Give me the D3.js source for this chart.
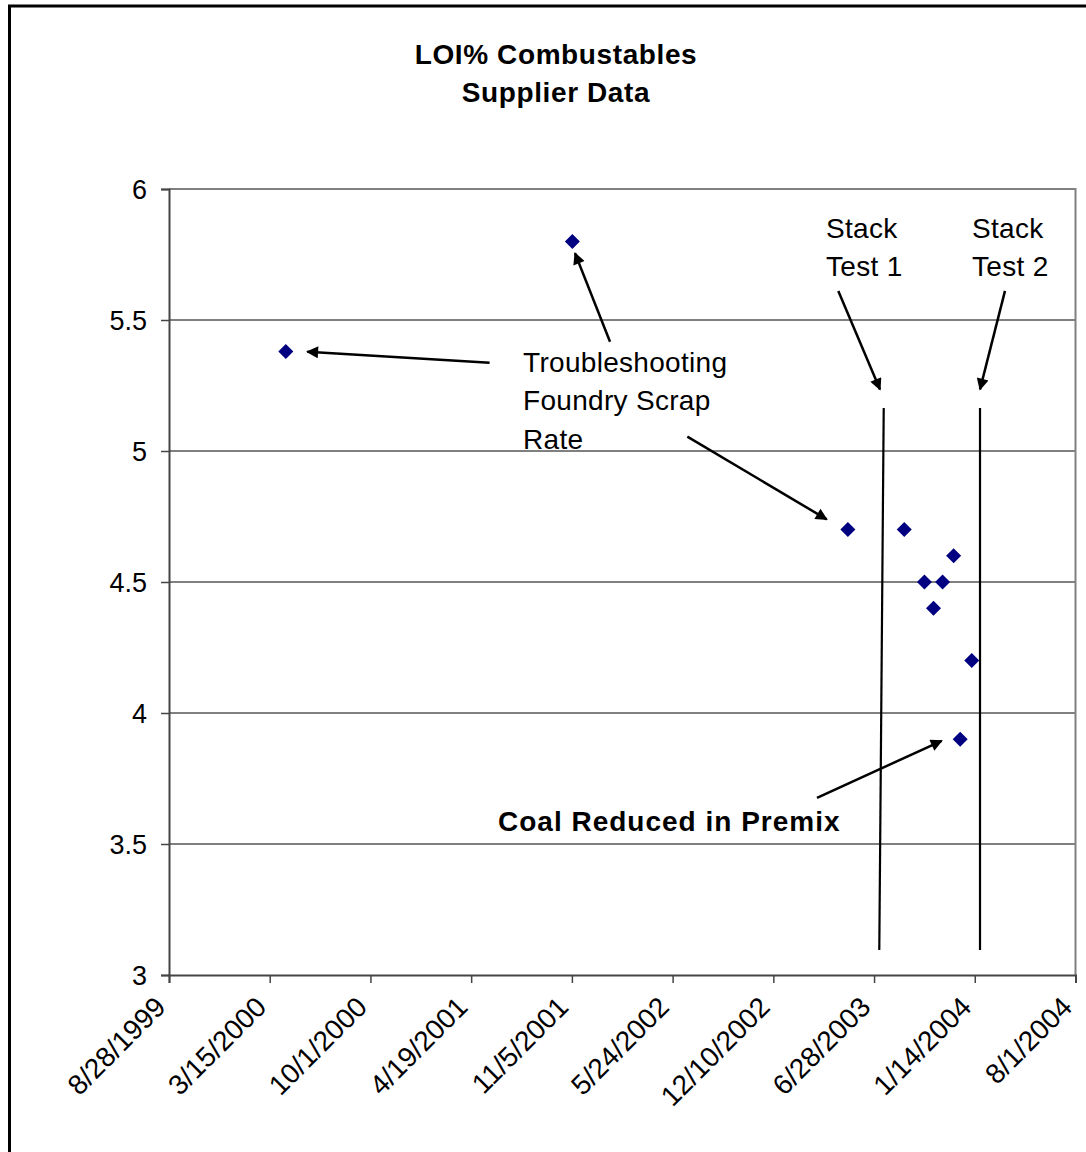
<!DOCTYPE html>
<html>
<head>
<meta charset="utf-8">
<script src="https://cdn.jsdelivr.net/npm/d3@7"></script>
<style>
  html, body { margin: 0; padding: 0; background: #fff; }
  svg { display: block; font-family: "Liberation Sans", Arial, sans-serif; }
</style>
</head>
<body>
<svg id="chart" width="1086" height="1152"></svg>
<script>
// ---------- data ----------
const titleLines = ["LOI% Combustables", "Supplier Data"];
const xTickLabels = ["8/28/1999", "3/15/2000", "10/1/2000", "4/19/2001", "11/5/2001",
                     "5/24/2002", "12/10/2002", "6/28/2003", "1/14/2004", "8/1/2004"];
const yTickValues = [3, 3.5, 4, 4.5, 5, 5.5, 6];
const pointDates = ["4/16/2000", "11/6/2001", "5/7/2003", "8/27/2003", "10/6/2003",
                    "10/24/2003", "11/11/2003", "12/3/2003", "12/16/2003", "1/8/2004"];
const pointValues = [5.38, 5.80, 4.70, 4.70, 4.50, 4.40, 4.50, 4.60, 3.90, 4.20];

// annotations, positioned in data terms (days after first tick date, value)
const arrowFromDay = [636.6, 875.7, 1029.2, 1329.0, 1660.0, 1286.7];
const arrowFromVal = [5.337, 5.417, 5.055, 5.611, 5.611, 3.676];
const arrowToDay   = [274.6, 806.2, 1306.0, 1411.8, 1610.4, 1534.3];
const arrowToVal   = [5.379, 5.755, 4.739, 5.235, 5.235, 3.894];

const testLineTopDay = [1419.2, 1610.4];
const testLineBotDay = [1410.4, 1610.4];
const testLineTopVal = [5.164, 5.164];
const testLineBotVal = [3.095, 3.095];

const noteLines = [["Troubleshooting", "Foundry Scrap", "Rate"], ["Stack", "Test 1"], ["Stack", "Test 2"], ["Coal Reduced in Premix"]];
const noteDay = [703.0, 1304.6, 1594.5, 653.3];
const noteVal = [5.303, 5.813, 5.813, 3.550];
const noteBold = [false, false, false, true];

// ---------- layout ----------
const svg = d3.select("#chart");
const plot = { left: 169, right: 1075.5, top: 189, bottom: 975 };

const parse = d3.timeParse("%m/%d/%Y");
const tickDates = xTickLabels.map(parse);
const start = tickDates[0];
const dayToDate = d => new Date(start.getTime() + d * 86400000);

const x = d3.scaleTime().domain([tickDates[0], tickDates[tickDates.length - 1]]).range([plot.left, plot.right]);
const y = d3.scaleLinear().domain([3, 6]).range([plot.bottom, plot.top]);

// outer frame
svg.append("rect").attr("x", 9.5).attr("y", 6).attr("width", 1200).attr("height", 1200)
  .attr("fill", "#fff").attr("stroke", "#000").attr("stroke-width", 3);

// title
svg.append("g").selectAll("text").data(titleLines).join("text")
  .attr("x", 556).attr("y", (d, i) => 64 + i * 38)
  .attr("text-anchor", "middle").attr("font-weight", "bold")
  .attr("font-size", 28).attr("letter-spacing", 0.6)
  .text(d => d);

// gridlines
svg.append("g").selectAll("line").data(yTickValues.filter(v => v > 3 && v < 6)).join("line")
  .attr("x1", plot.left).attr("x2", plot.right)
  .attr("y1", d => y(d)).attr("y2", d => y(d))
  .attr("stroke", "#000").attr("stroke-width", 1);

// plot border top & right (gray)
svg.append("path")
  .attr("d", `M${plot.left},${plot.top}H${plot.right}V${plot.bottom}`)
  .attr("fill", "none").attr("stroke", "#808080").attr("stroke-width", 2);

// y axis
const yAxis = d3.axisLeft(y).tickValues(yTickValues).tickSize(8).tickPadding(14).tickFormat(d3.format("~g"));
const gy = svg.append("g").attr("transform", `translate(${plot.left},0)`).call(yAxis);
gy.select(".domain").attr("stroke", "#444").attr("stroke-width", 2);
gy.selectAll(".tick line").attr("stroke", "#444").attr("stroke-width", 1.5);
gy.selectAll(".tick text").attr("font-size", 27).attr("fill", "#000")
  .attr("font-family", "Liberation Sans, Arial, sans-serif").attr("dy", "0.36em");

// x axis
const xAxis = d3.axisBottom(x).tickValues(tickDates).tickSize(8).tickFormat((d, i) => xTickLabels[i]);
const gx = svg.append("g").attr("transform", `translate(0,${plot.bottom})`).call(xAxis);
gx.select(".domain").attr("stroke", "#444").attr("stroke-width", 2);
gx.selectAll(".tick line").attr("stroke", "#444").attr("stroke-width", 1.5);
gx.selectAll(".tick text").attr("font-size", 28).attr("fill", "#000")
  .attr("font-family", "Liberation Sans, Arial, sans-serif")
  .attr("text-anchor", "end").attr("dy", null).attr("y", 0)
  .attr("transform", "translate(-9,27) rotate(-45)")
  .attr("dominant-baseline", "central");

// stack test lines
svg.append("g").selectAll("line").data(testLineTopDay).join("line")
  .attr("x1", (d, i) => x(dayToDate(testLineTopDay[i])))
  .attr("y1", (d, i) => y(testLineTopVal[i]))
  .attr("x2", (d, i) => x(dayToDate(testLineBotDay[i])))
  .attr("y2", (d, i) => y(testLineBotVal[i]))
  .attr("stroke", "#000").attr("stroke-width", 2.2);

// arrow marker
svg.append("defs").append("marker")
  .attr("id", "ah").attr("viewBox", "0 0 10 10").attr("refX", 9).attr("refY", 5)
  .attr("markerUnits", "userSpaceOnUse").attr("markerWidth", 15).attr("markerHeight", 12)
  .attr("orient", "auto")
  .append("path").attr("d", "M0,0L10,5L0,10Z").attr("fill", "#000");

svg.append("g").selectAll("line").data(arrowFromDay).join("line")
  .attr("x1", (d, i) => x(dayToDate(arrowFromDay[i])))
  .attr("y1", (d, i) => y(arrowFromVal[i]))
  .attr("x2", (d, i) => x(dayToDate(arrowToDay[i])))
  .attr("y2", (d, i) => y(arrowToVal[i]))
  .attr("stroke", "#000").attr("stroke-width", 2.5)
  .attr("marker-end", "url(#ah)");

// annotation text
noteLines.forEach((lines, k) => {
  const t = svg.append("text")
    .attr("x", x(dayToDate(noteDay[k])))
    .attr("y", y(noteVal[k]))
    .attr("font-size", 28)
    .attr("font-weight", noteBold[k] ? "bold" : "normal")
    .attr("letter-spacing", noteBold[k] ? 1 : 0.3)
    .attr("fill", "#000");
  lines.forEach((ln, j) => {
    t.append("tspan").attr("x", x(dayToDate(noteDay[k]))).attr("dy", j === 0 ? 0 : 38.5).text(ln);
  });
});

// points (diamonds)
const diamond = r => `M0,${-r}L${r},0L0,${r}L${-r},0Z`;
svg.append("g").selectAll("path").data(pointValues).join("path")
  .attr("transform", (d, i) => `translate(${x(parse(pointDates[i]))},${y(d)})`)
  .attr("d", diamond(7.5))
  .attr("fill", "#000080");
</script>
</body>
</html>
